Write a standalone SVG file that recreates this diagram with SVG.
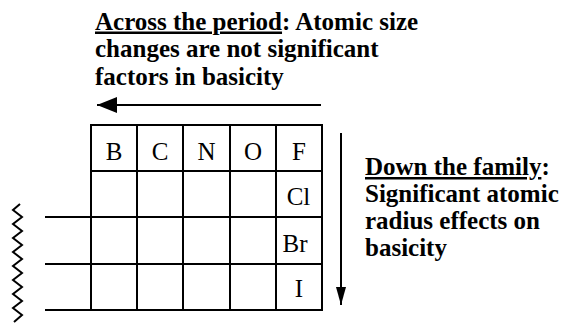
<svg xmlns="http://www.w3.org/2000/svg" width="563" height="324" viewBox="0 0 563 324">
<style>
.u{text-decoration:underline}
.ln{stroke:#000;stroke-width:2;fill:none}
</style>
<defs>
<marker id="ahL" markerUnits="userSpaceOnUse" markerWidth="20" markerHeight="16" refX="20" refY="8" orient="auto">
<path d="M0,0 L20,8 L0,16 Z" fill="#000"/>
</marker>
<marker id="ahD" markerUnits="userSpaceOnUse" markerWidth="18" markerHeight="10" refX="18" refY="5" orient="auto">
<path d="M0,0 L18,5 L0,10 Z" fill="#000"/>
</marker>
</defs>
<rect width="563" height="324" fill="#fff"/>
<g id="label-across" font-family="'Liberation Serif', 'Times New Roman', serif" font-weight="bold" font-size="25" fill="#000">
<text x="95" y="29.5"><tspan class="u">Across the period</tspan>: Atomic size</text>
<text x="95" y="57">changes are not significant</text>
<text x="95" y="84.5">factors in basicity</text>
</g>
<g id="label-down" font-family="'Liberation Serif', 'Times New Roman', serif" font-weight="bold" font-size="25" fill="#000">
<text x="365" y="175"><tspan class="u">Down the family</tspan>:</text>
<text x="365" y="202">Significant atomic</text>
<text x="365" y="229">radius effects on</text>
<text x="365" y="256">basicity</text>
</g>
<g id="grid">
<path class="ln" d="M91,125 H322 M45,217 H322 M45,264 H322 M45,310 H322 M91,171 H322 M91,124 V311 M137,124 V311 M183,124 V311 M230,124 V311 M276,124 V311 M322,124 V311"/>
<path class="ln" d="M20,204 L13,210 L22,217 L13,224 L22,231 L13,238 L22,245 L13,252 L22,259 L13,266 L22,273 L13,280 L22,287 L13,294 L22,301 L13,308 L22,315 L14,322"/>
</g>
<g id="elements" font-family="'Liberation Serif', 'Times New Roman', serif" font-size="25" fill="#000" text-anchor="middle">
<text x="114" y="160">B</text>
<text x="160" y="160">C</text>
<text x="206.5" y="160">N</text>
<text x="253" y="160">O</text>
<text x="299" y="160">F</text>
<text x="298.5" y="205">Cl</text>
<text x="295" y="252">Br</text>
<text x="299" y="297">I</text>
</g>
<g id="connectors">
<line class="ln" x1="321" y1="105" x2="97" y2="105" marker-end="url(#ahL)"/>
<line class="ln" x1="341" y1="133" x2="341" y2="305" marker-end="url(#ahD)"/>
</g>
</svg>
